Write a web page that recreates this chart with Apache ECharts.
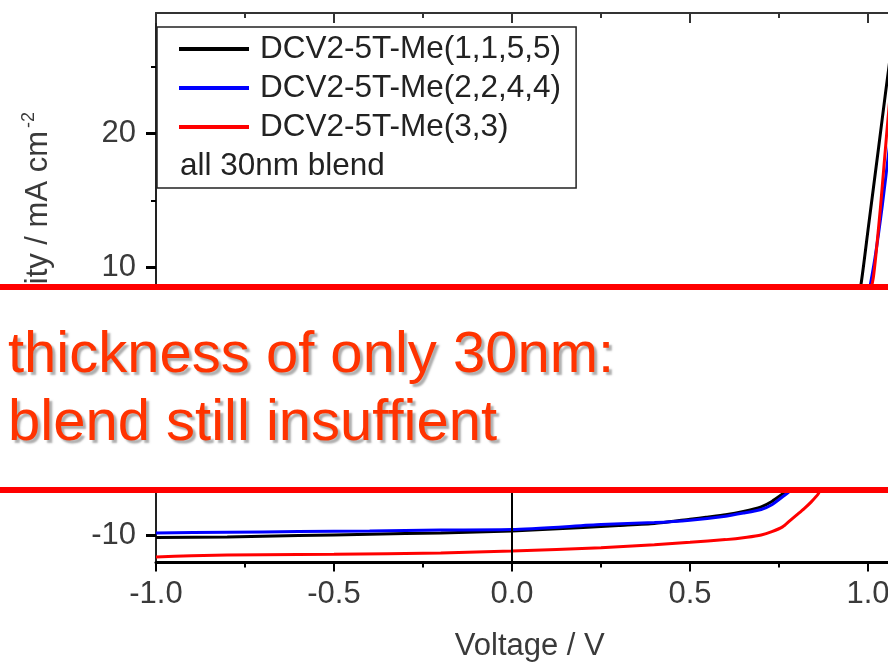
<!DOCTYPE html>
<html>
<head>
<meta charset="utf-8">
<script src="https://cdn.jsdelivr.net/npm/echarts@6/dist/echarts.min.js"></script>
<style>
html,body{margin:0;padding:0;background:#fff;}
#chart{width:888px;height:663px;}
</style>
</head>
<body>
<div id="chart"></div>
<script>
// ---- data ----
const seriesNames = ['DCV2-5T-Me(1,1,5,5)', 'DCV2-5T-Me(2,2,4,4)', 'DCV2-5T-Me(3,3)'];
const seriesColors = ['#000000', '#0000FF', '#FF0000'];

const voltageBlack = [-1.0, -0.8, -0.6, -0.4, -0.2, 0.0, 0.2, 0.3, 0.4, 0.5, 0.55, 0.6, 0.65, 0.7, 0.73, 0.76, 0.78, 0.80, 0.85, 0.90, 0.94, 0.98, 1.00, 1.03, 1.05, 1.07, 1.09];
const currentBlack = [-10.15, -10.1, -10.0, -9.9, -9.8, -9.65, -9.4, -9.25, -9.1, -8.78, -8.62, -8.45, -8.2, -7.85, -7.45, -6.9, -6.5, -6.0, -4.0, -0.8, 3.0, 8.7, 12.8, 19.0, 23.2, 27.2, 31.0];

const voltageBlue = [-1.0, -0.8, -0.6, -0.4, -0.2, 0.0, 0.25, 0.4, 0.5, 0.6, 0.65, 0.7, 0.73, 0.76, 0.78, 0.80, 0.85, 0.90, 0.95, 0.98, 1.00, 1.02, 1.04, 1.06, 1.08, 1.10];
const currentBlue = [-9.8, -9.75, -9.7, -9.65, -9.58, -9.55, -9.18, -9.03, -8.85, -8.55, -8.32, -8.05, -7.7, -7.1, -6.7, -6.2, -4.3, -1.5, 2.6, 5.2, 7.8, 10.8, 14.6, 19.0, 23.5, 28.0];

const voltageRed = [-1.0, -0.9, -0.7, -0.5, -0.2, 0.0, 0.25, 0.4, 0.5, 0.6, 0.66, 0.7, 0.73, 0.76, 0.78, 0.80, 0.82, 0.84, 0.86, 0.88, 0.92, 0.96, 0.99, 1.015, 1.035, 1.0525, 1.07, 1.09];
const currentRed = [-11.6, -11.5, -11.42, -11.4, -11.3, -11.15, -10.9, -10.68, -10.5, -10.3, -10.12, -9.95, -9.7, -9.35, -8.9, -8.45, -8.0, -7.5, -6.9, -5.8, -2.5, 2.0, 6.2, 9.25, 14.5, 20.0, 25.2, 31.0];

const xMin = -1.0, xMax = 1.1, xInterval = 0.5;
const yMin = -12, yMax = 29;
const yMajorTicks = [-10, 0, 10, 20];
const yMinorTicks = [-5, 5, 15, 25];
const zeroLineFrom = [0, -12];
const zeroLineTo = [0, 0];

const xTitle = 'Voltage / V';
const yTitleMain = 'Current density / mA cm';
const yTitleSup = '-2';
const legendNote = 'all 30nm blend';
const overlayLine1 = 'thickness of only 30nm:';
const overlayLine2 = 'blend still insuffient';

// ---- chart ----
const FONT = '"Liberation Sans", Arial, Helvetica, sans-serif';
const pairs = (xs, ys) => xs.map((x, i) => [x, ys[i]]);
const allData = [
  pairs(voltageBlack, currentBlack),
  pairs(voltageBlue, currentBlue),
  pairs(voltageRed, currentRed)
];

const chart = echarts.init(document.getElementById('chart'), null, {renderer: 'canvas'});

const series = allData.map((d, i) => ({
  name: seriesNames[i],
  type: 'line',
  data: d,
  showSymbol: false,
  symbol: 'none',
  smooth: 0.2,
  clip: true,
  lineStyle: {color: seriesColors[i], width: 3},
  itemStyle: {color: seriesColors[i]},
  z: 2 + i,
  animation: false
}));
series[0].markLine = {
  silent: true,
  symbol: 'none',
  label: {show: false},
  lineStyle: {color: '#000', width: 2, type: 'solid'},
  data: [[{coord: zeroLineFrom}, {coord: zeroLineTo}]],
  animation: false
};

const option = {
  backgroundColor: '#ffffff',
  animation: false,
  grid: {left: 156, top: 13, width: 747.6, height: 549.4, containLabel: false, outerBoundsMode: 'none'},
  xAxis: [{
    type: 'value', position: 'bottom', min: xMin, max: xMax, interval: xInterval,
    axisLine: {onZero: false, lineStyle: {color: '#000', width: 3}},
    axisTick: {show: true, inside: false, length: 9, lineStyle: {color: '#000', width: 2}},
    minorTick: {show: true, splitNumber: 2, length: 5, lineStyle: {color: '#000', width: 2}},
    splitLine: {show: false},
    axisLabel: {show: true, margin: 17, color: '#3a3a3a', fontSize: 31, fontFamily: FONT,
      formatter: v => v.toFixed(1)},
    name: xTitle, nameLocation: 'middle', nameGap: 69,
    nameTextStyle: {color: '#3a3a3a', fontSize: 31, fontFamily: FONT}
  }, {
    type: 'value', position: 'top', min: xMin, max: xMax, interval: xInterval,
    axisLine: {onZero: false, lineStyle: {color: '#333', width: 2}},
    axisTick: {show: true, inside: true, length: 10, lineStyle: {color: '#333', width: 2}},
    minorTick: {show: true, splitNumber: 2, length: 5, lineStyle: {color: '#333', width: 2}},
    splitLine: {show: false},
    axisLabel: {show: false}
  }],
  yAxis: [{
    type: 'value', position: 'left', min: yMin, max: yMax,
    axisLine: {onZero: false, lineStyle: {color: '#222', width: 2}},
    axisTick: {show: true, inside: false, length: 10, customValues: yMajorTicks, lineStyle: {color: '#000', width: 3}},
    splitLine: {show: false},
    axisLabel: {show: true, margin: 20, color: '#3a3a3a', fontSize: 31, fontFamily: FONT,
      customValues: yMajorTicks, formatter: v => String(v)},
    name: '{a|' + yTitleMain + '}{s|' + yTitleSup + '}',
    nameLocation: 'middle', nameGap: 100,
    nameTextStyle: {
      color: '#3a3a3a', fontFamily: FONT,
      rich: {
        a: {fontSize: 31, fontFamily: FONT, color: '#3a3a3a', lineHeight: 36},
        s: {fontSize: 18, fontFamily: FONT, color: '#3a3a3a', lineHeight: 18, verticalAlign: 'top', padding: [0, 0, 0, 3]}
      }
    }
  }, {
    type: 'value', position: 'left', min: yMin, max: yMax,
    axisLine: {show: false, onZero: false},
    axisTick: {show: true, inside: false, length: 5, customValues: yMinorTicks, lineStyle: {color: '#000', width: 2}},
    splitLine: {show: false},
    axisLabel: {show: false}
  }],
  legend: {
    show: true,
    orient: 'vertical',
    left: 157, top: 27,
    padding: [6, 15, 45, 22],
    itemGap: 7,
    itemWidth: 70, itemHeight: 4,
    icon: 'rect',
    backgroundColor: '#ffffff',
    borderColor: '#222', borderWidth: 1.5,
    textStyle: {color: '#222', fontSize: 31.5, fontFamily: FONT, lineHeight: 32, padding: [0, 0, 0, 6]},
    data: seriesNames.map((n, i) => ({name: n, itemStyle: {color: seriesColors[i]}}))
  },
  graphic: [
    {type: 'text', z: 50, left: 180, top: 150,
      style: {text: legendNote, fill: '#222', fontSize: 31.5, fontFamily: FONT}},
    {type: 'rect', z: 100, shape: {x: 0, y: 287, width: 888, height: 203}, style: {fill: '#ffffff'}},
    {type: 'rect', z: 101, shape: {x: 0, y: 284, width: 888, height: 6}, style: {fill: '#FF0000'}},
    {type: 'rect', z: 101, shape: {x: 0, y: 487, width: 888, height: 6}, style: {fill: '#FF0000'}},
    {type: 'text', z: 102, x: 8, y: 356,
      style: {text: overlayLine1, fill: '#FF3300', fontSize: 58, fontFamily: FONT,
        verticalAlign: 'middle', textShadowColor: 'rgba(120,120,120,0.6)', textShadowOffsetX: 3, textShadowOffsetY: 3, textShadowBlur: 2}},
    {type: 'text', z: 102, x: 8, y: 424,
      style: {text: overlayLine2, fill: '#FF3300', fontSize: 58, fontFamily: FONT,
        verticalAlign: 'middle', textShadowColor: 'rgba(120,120,120,0.6)', textShadowOffsetX: 3, textShadowOffsetY: 3, textShadowBlur: 2}}
  ],
  series: series
};
chart.setOption(option);
</script>
</body>
</html>
